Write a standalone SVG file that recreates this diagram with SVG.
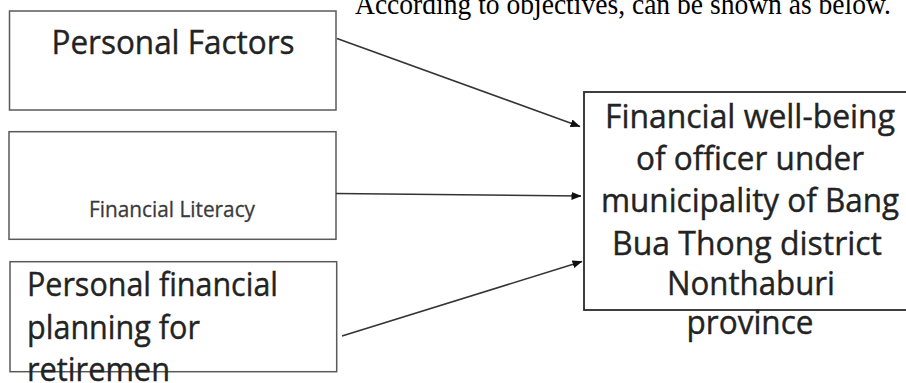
<svg xmlns="http://www.w3.org/2000/svg" width="906" height="383" viewBox="0 0 906 383">
  <style>
    .box { fill: #ffffff; stroke: #5a5a5a; stroke-width: 1.5; }
    .target { fill: #ffffff; stroke: #2a2a2a; stroke-width: 1.8; }
    .lbl { font-family: "Open Sans", "Noto Sans", "Liberation Sans", sans-serif; font-size: 32.5px; fill: #232323; stroke: #232323; stroke-width: 0.4; }
    .small { font-size: 21.5px; fill: #3a3a3a; stroke: #3a3a3a; stroke-width: 0.3; }
    .caption { font-family: "Liberation Serif", "Times New Roman", serif; font-size: 30px; fill: #000000; }
    .link { fill: none; stroke: #333333; stroke-width: 1.6; }
  </style>
  <defs>
    <marker id="head" viewBox="0 0 10 8" refX="9.5" refY="4" markerWidth="10" markerHeight="8" markerUnits="userSpaceOnUse" orient="auto">
      <path d="M0,0 L10,4 L0,8 Z" fill="#111111"/>
    </marker>
  </defs>

  <rect width="906" height="383" fill="#ffffff"/>

  <text class="caption" x="355" y="14" textLength="536" lengthAdjust="spacingAndGlyphs">According to objectives, can be shown as below.</text>

  <g id="personal-factors">
    <rect class="box" x="9.5" y="11" width="326.5" height="99"/>
    <text class="lbl" x="173" y="53.5" text-anchor="middle" textLength="243" lengthAdjust="spacingAndGlyphs">Personal Factors</text>
  </g>

  <g id="financial-literacy">
    <rect class="box" x="9" y="131.7" width="327" height="107.6"/>
    <text class="lbl small" x="172" y="217" text-anchor="middle" textLength="166" lengthAdjust="spacingAndGlyphs">Financial Literacy</text>
  </g>

  <g id="retirement-planning">
    <rect class="box" x="10" y="261.7" width="326.7" height="110"/>
    <text class="lbl" x="27" y="296" textLength="251" lengthAdjust="spacingAndGlyphs">Personal financial</text>
    <text class="lbl" x="27" y="338.5" textLength="173" lengthAdjust="spacingAndGlyphs">planning for</text>
    <text class="lbl" x="27" y="381" textLength="143" lengthAdjust="spacingAndGlyphs">retiremen</text>
  </g>

  <g id="financial-well-being">
    <rect class="target" x="584" y="92" width="330" height="218"/>
    <text class="lbl" x="750" y="127.5" text-anchor="middle" textLength="290" lengthAdjust="spacingAndGlyphs">Financial well-being</text>
    <text class="lbl" x="750" y="170" text-anchor="middle" textLength="228" lengthAdjust="spacingAndGlyphs">of officer under</text>
    <text class="lbl" x="750" y="212" text-anchor="middle" textLength="298" lengthAdjust="spacingAndGlyphs">municipality of Bang</text>
    <text class="lbl" x="747" y="255" text-anchor="middle" textLength="270" lengthAdjust="spacingAndGlyphs">Bua Thong district</text>
    <text class="lbl" x="751" y="295" text-anchor="middle" textLength="168" lengthAdjust="spacingAndGlyphs">Nonthaburi</text>
    <text class="lbl" x="750" y="334" text-anchor="middle" textLength="127" lengthAdjust="spacingAndGlyphs">province</text>
  </g>

  <g id="connectors">
    <line class="link" x1="337" y1="38.5" x2="580" y2="126.5" marker-end="url(#head)"/>
    <line class="link" x1="336" y1="193.5" x2="581" y2="196" marker-end="url(#head)"/>
    <line class="link" x1="342" y1="336" x2="582" y2="261.5" marker-end="url(#head)"/>
  </g>
</svg>
